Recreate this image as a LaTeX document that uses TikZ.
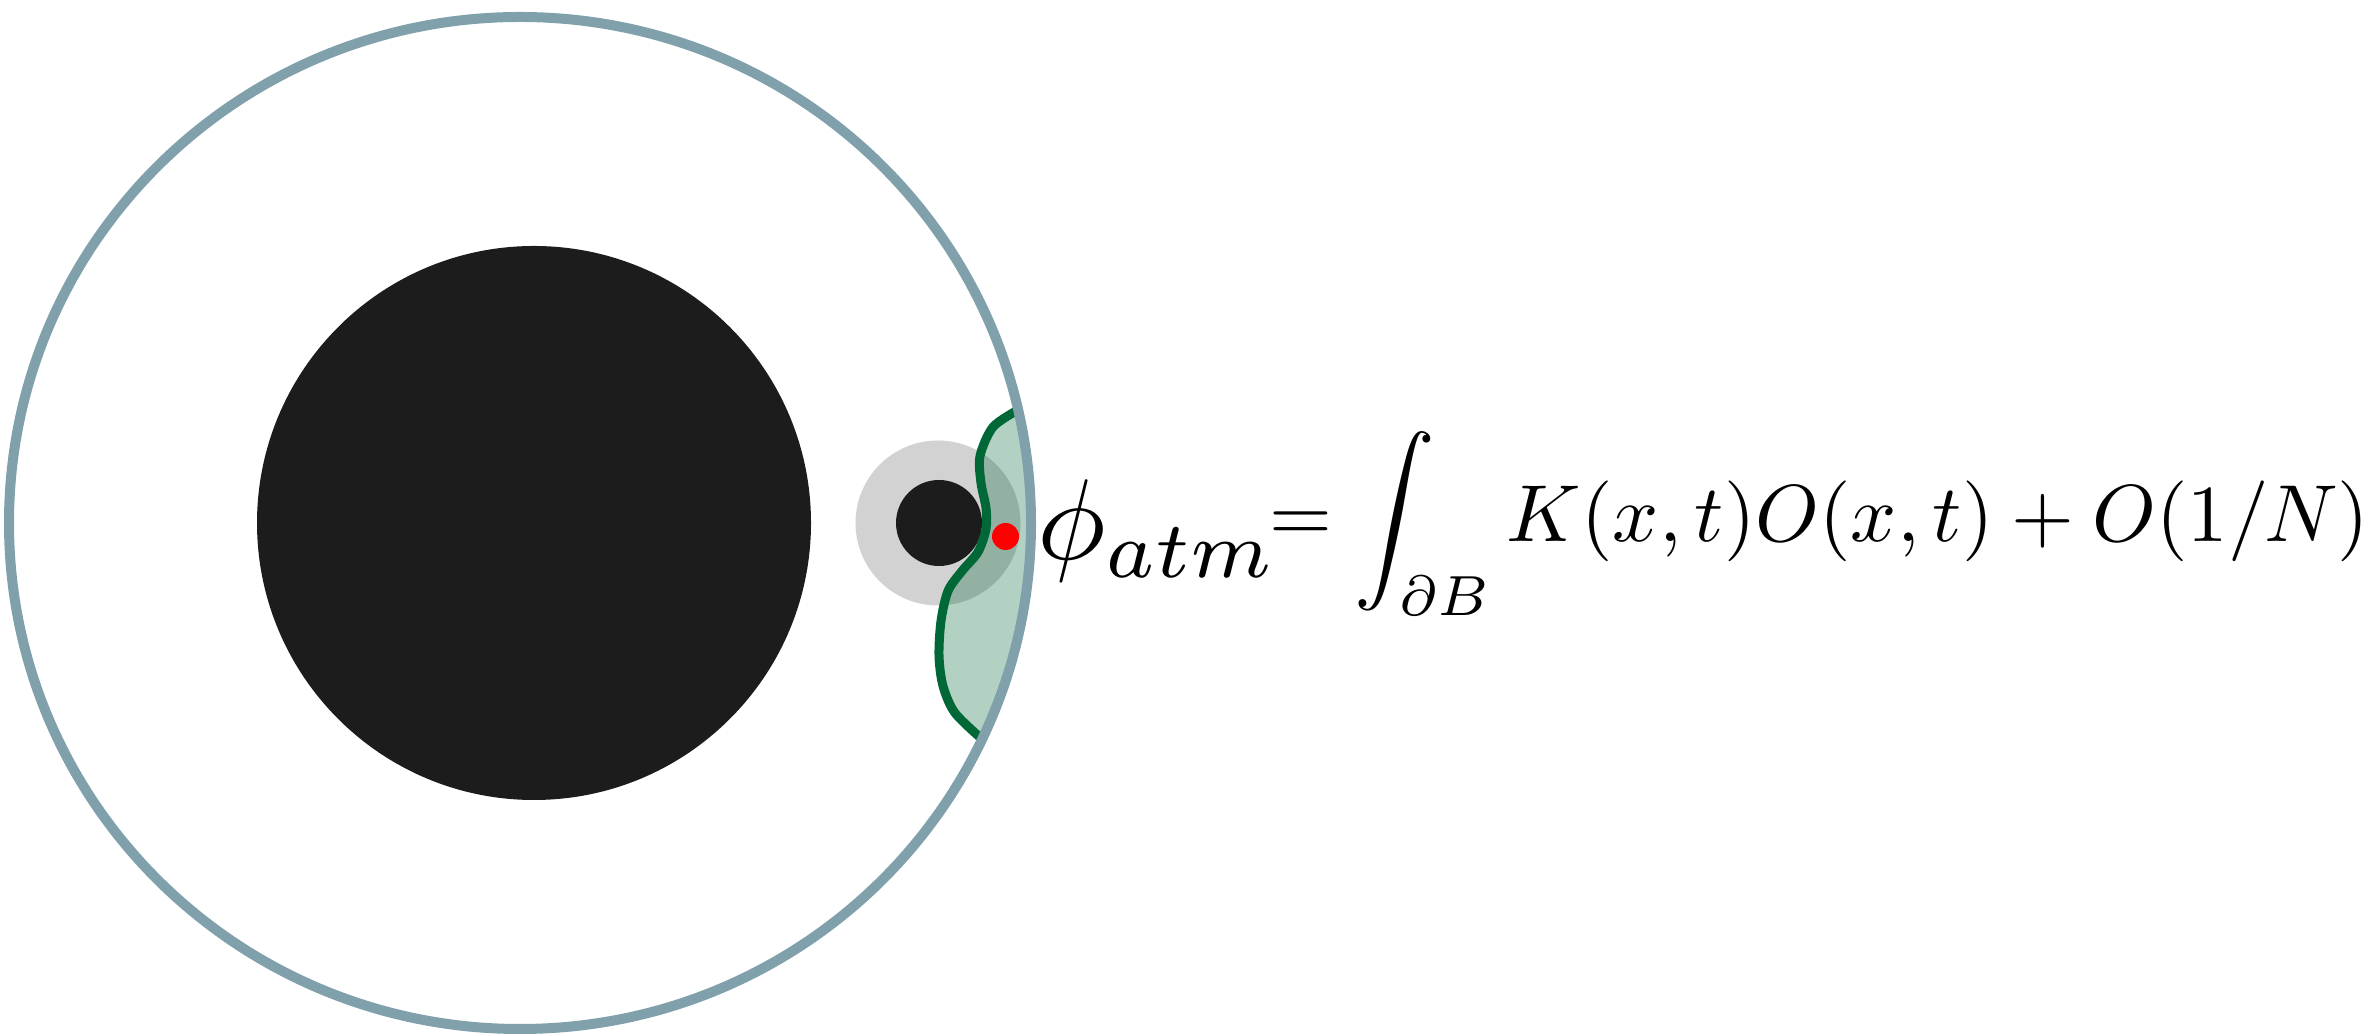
\documentclass[tikz,border=0pt]{standalone}
\definecolor{rimblue}{RGB}{128,161,172}
\definecolor{wallgreen}{RGB}{0,104,55}
\definecolor{holeblack}{RGB}{28,28,28}
\definecolor{halogrey}{RGB}{210,210,210}
\tikzset{rim/.style={draw=rimblue,line width=1mm},
  hole/.style={fill=holeblack},
  halo/.style={fill=halogrey},
  patch/.style={fill=wallgreen,fill opacity=.3},
  wall/.style={draw=wallgreen,line width=.9mm},
  probe/.style={fill=red},
  eqn/.style={inner sep=0pt,anchor=base west}}

\begin{document}
\begin{tikzpicture}[x=.1mm,y=.1mm]
  \path[use as bounding box] (0,0) rectangle (2377,1036);
  \fill[hole] (534,513) circle[radius=277];
  \fill[halo] (938,513) circle[radius=82.5];
  \fill[hole] (939,513) circle[radius=43];
  \fill[patch] plot[smooth] coordinates {(1018,626) (993,609) (980,580) (981,553) (986,528) (986,507)
    (978,484) (962,465) (948,445) (941,415) (939,380) (943,350) (955,323) (983,296)}
    arc[start angle=-25.3,end angle=12.95,x radius=511,y radius=506] -- cycle;
  \draw[wall] plot[smooth] coordinates {(1018,626) (993,609) (980,580) (981,553) (986,528) (986,507)
    (978,484) (962,465) (948,445) (941,415) (939,380) (943,350) (955,323) (983,296)};
  \fill[probe] (1005.5,499.5) circle[radius=13.5];
  \draw[rim] (520,513) ellipse[x radius=511,y radius=506];
  \node[eqn,scale=3.27] (phi) at (1035,476) {$\phi_{atm}$};
  \node[eqn,scale=2.3] (rhs) at (1268,494) {$=\displaystyle\int_{\partial B} K(x,t)O(x,t)+O(1/N)$};
\end{tikzpicture}
\end{document}
